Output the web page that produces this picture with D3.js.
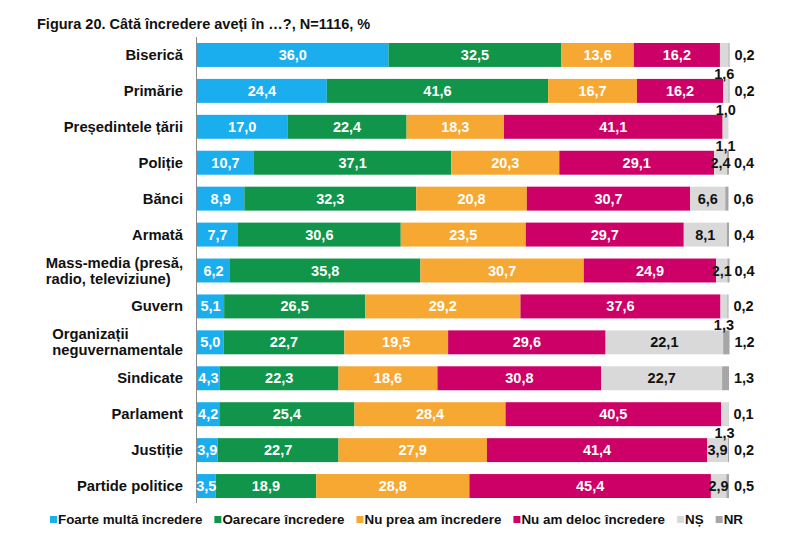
<!DOCTYPE html>
<html>
<head>
<meta charset="utf-8">
<script src="https://cdn.jsdelivr.net/npm/d3@7"></script>
<style>
  body { margin: 0; background: #fff; }
  svg text { font-family: "Liberation Sans", Arial, Helvetica, sans-serif; font-weight: bold; }
</style>
</head>
<body>
<div id="chart"></div>
<script>
// Data

var categories = ["Biserică", "Primărie", "Președintele țării", "Poliție", "Bănci", "Armată",
    "Mass-media (presă,\nradio, televiziune)", "Guvern", "Organizații\nneguvernamentale",
    "Sindicate", "Parlament", "Justiție", "Partide politice"];

var foarte   = [36.0, 24.4, 17.0, 10.7, 8.9, 7.7, 6.2, 5.1, 5.0, 4.3, 4.2, 3.9, 3.5];
var oarecare = [32.5, 41.6, 22.4, 37.1, 32.3, 30.6, 35.8, 26.5, 22.7, 22.3, 25.4, 22.7, 18.9];
var nuPrea   = [13.6, 16.7, 18.3, 20.3, 20.8, 23.5, 30.7, 29.2, 19.5, 18.6, 28.4, 27.9, 28.8];
var nuDeloc  = [16.2, 16.2, 41.1, 29.1, 30.7, 29.7, 24.9, 37.6, 29.6, 30.8, 40.5, 41.4, 45.4];
var ns       = [1.6, 1.0, 1.1, 2.4, 6.6, 8.1, 2.1, 1.3, 22.1, 22.7, 1.3, 3.9, 2.9];
var nr       = [0.2, 0.2, 0.0, 0.4, 0.6, 0.4, 0.4, 0.2, 1.2, 1.3, 0.1, 0.2, 0.5];

var seriesNames = ["Foarte multă încredere", "Oarecare încredere", "Nu prea am încredere",
    "Nu am deloc încredere", "NȘ", "NR"];
var seriesColors = ["#1aaeef", "#10954a", "#f6a833", "#cc0066", "#d9d9d9", "#a6a6a6"];

var seriesValues = [foarte, oarecare, nuPrea, nuDeloc, ns, nr];

// SVG

var svgWidth = 800;
var svgHeight = 541;

var svg = d3.select("#chart")
    .append("svg")
    .attr("width", svgWidth)
    .attr("height", svgHeight);

// Title
svg.append("text")
    .attr("x", 37)
    .attr("y", 29)
    .attr("font-size", "14.5px")
    .attr("fill", "#111")
    .text("Figura 20. Câtă încredere aveți în …?, N=1116, %");

// Scales
var xScale = d3.scaleLinear()
    .domain([0, 100])
    .range([197, 729]);

var yScale = d3.scaleBand()
    .domain(d3.range(categories.length))
    .range([37, 504])
    .paddingInner(1 / 3)
    .paddingOuter(1 / 6);

var bh = yScale.bandwidth();

// Build stacked rows
var rows = categories.map(function (c, i) {
    var row = { index: i };
    seriesValues.forEach(function (s, k) { row[k] = s[i]; });
    return row;
});

var stack = d3.stack().keys(d3.range(seriesNames.length));
var stacked = stack(rows);

var layers = svg.selectAll(".layer")
    .data(stacked)
    .enter()
    .append("g")
    .attr("class", "layer")
    .attr("fill", function (d, k) { return seriesColors[k]; });

layers.selectAll("rect")
    .data(function (d) { return d; })
    .enter()
    .append("rect")
    .attr("x", function (d) { return xScale(d[0]); })
    .attr("y", function (d) { return yScale(d.data.index); })
    .attr("width", function (d) { return Math.max(0, xScale(d[1]) - xScale(d[0])); })
    .attr("height", bh);

// Axis line
svg.append("line")
    .attr("x1", 196.5).attr("x2", 196.5)
    .attr("y1", 37).attr("y2", 503)
    .attr("stroke", "#888")
    .attr("stroke-width", 1);

function fmt(v) {
    return v.toFixed(1).replace(".", ",");
}

// Value labels for the four main series
stacked.slice(0, 4).forEach(function (layer) {
    svg.selectAll(null)
        .data(layer)
        .enter()
        .append("text")
        .attr("x", function (d) { return (xScale(d[0]) + xScale(d[1])) / 2; })
        .attr("y", function (d) { return yScale(d.data.index) + bh / 2 + 5; })
        .attr("text-anchor", "middle")
        .attr("font-size", "14.5px")
        .attr("fill", "#fff")
        .text(function (d) { return fmt(d[1] - d[0]); });
});

// NS labels: inside if wide enough, otherwise below the bar
svg.selectAll(null)
    .data(stacked[4])
    .enter()
    .append("text")
    .attr("x", function (d) { return (xScale(d[0]) + xScale(d[1])) / 2; })
    .attr("y", function (d) {
        var v = d[1] - d[0];
        return v >= 2 ? yScale(d.data.index) + bh / 2 + 5 : yScale(d.data.index) + bh + 12;
    })
    .attr("text-anchor", "middle")
    .attr("font-size", "14.5px")
    .attr("fill", "#111")
    .text(function (d) { return fmt(d[1] - d[0]); });

// NR labels: right of the bar
svg.selectAll(null)
    .data(stacked[5].filter(function (d) { return d[1] - d[0] > 0; }))
    .enter()
    .append("text")
    .attr("x", function (d) { return xScale(d[1]) + 5; })
    .attr("y", function (d) { return yScale(d.data.index) + bh / 2 + 5; })
    .attr("font-size", "14.5px")
    .attr("fill", "#111")
    .text(function (d) { return fmt(d[1] - d[0]); });

// Category labels
categories.forEach(function (c, i) {
    var lines = c.split("\n");
    var cy = yScale(i) + bh / 2;
    var t = svg.append("text")
        .attr("font-size", "14.8px")
        .attr("fill", "#111");
    lines.forEach(function (ln, j) {
        t.append("tspan")
            .attr("y", cy + 5 + (j - (lines.length - 1) / 2) * 16)
            .text(ln);
    });
    // left-align lines inside a block that ends at x=183
    var maxW = 0;
    t.selectAll("tspan").each(function () {
        maxW = Math.max(maxW, this.getComputedTextLength());
    });
    t.selectAll("tspan").attr("x", 183 - maxW);
});

// Legend
var lx = 50;
seriesNames.forEach(function (name, k) {
    svg.append("rect")
        .attr("x", lx)
        .attr("y", 516)
        .attr("width", 7)
        .attr("height", 7)
        .attr("fill", seriesColors[k]);
    var lt = svg.append("text")
        .attr("x", lx + 8)
        .attr("y", 524)
        .attr("font-size", "13.4px")
        .attr("fill", "#111")
        .text(name);
    lx = lx + 8 + lt.node().getComputedTextLength() + 12;
});
</script>
</body>
</html>
